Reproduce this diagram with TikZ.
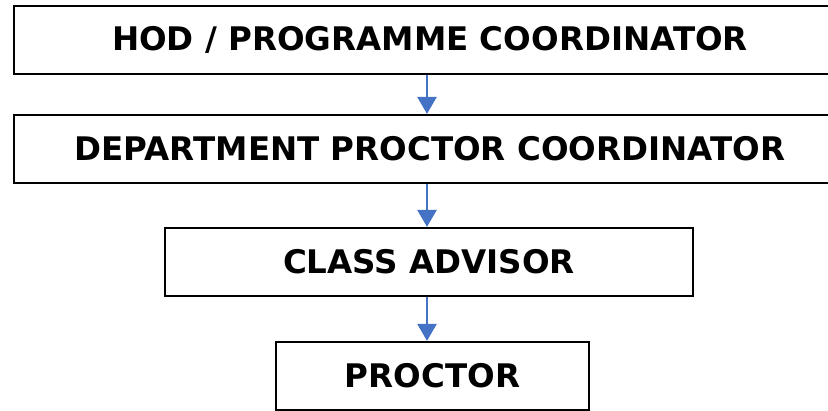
\documentclass[tikz,border=0pt]{standalone}
\usepackage{fontspec}
\setmainfont{DejaVu Sans}
\usepackage{tikz}
\usetikzlibrary{arrows.meta}

\definecolor{arrowblue}{RGB}{68,114,196}

\begin{document}
\begin{tikzpicture}[x=1pt,y=-1pt,
    box/.style={draw=black,line width=2.2pt,inner sep=0pt,
        font=\fontsize{32.5}{34}\selectfont\bfseries},
    arr/.style={draw=arrowblue,line width=2.6pt,
        -{Triangle[length=17pt,width=19pt]}}]
    \useasboundingbox (0,0) rectangle (828,410);
    \clip (0,0) rectangle (828,410);
    \node[box,minimum width=832pt,minimum height=68pt] (hod) at (430,40) {HOD / PROGRAMME COORDINATOR};
    \node[box,minimum width=832pt,minimum height=68pt] (dpc) at (430,149) {DEPARTMENT PROCTOR COORDINATOR};
    \node[box,minimum width=528pt,minimum height=68pt] (adv) at (429,262) {CLASS ADVISOR};
    \node[box,minimum width=313pt,minimum height=68pt] (proc) at (432.5,376) {PROCTOR};
    % arrows
    \draw[arr] (hod.south -| 427,0) -- (dpc.north -| 427,0);
    \draw[arr] (dpc.south -| 427,0) -- (adv.north -| 427,0);
    \draw[arr] (adv.south -| 427,0) -- (proc.north -| 427,0);
\end{tikzpicture}
\end{document}
